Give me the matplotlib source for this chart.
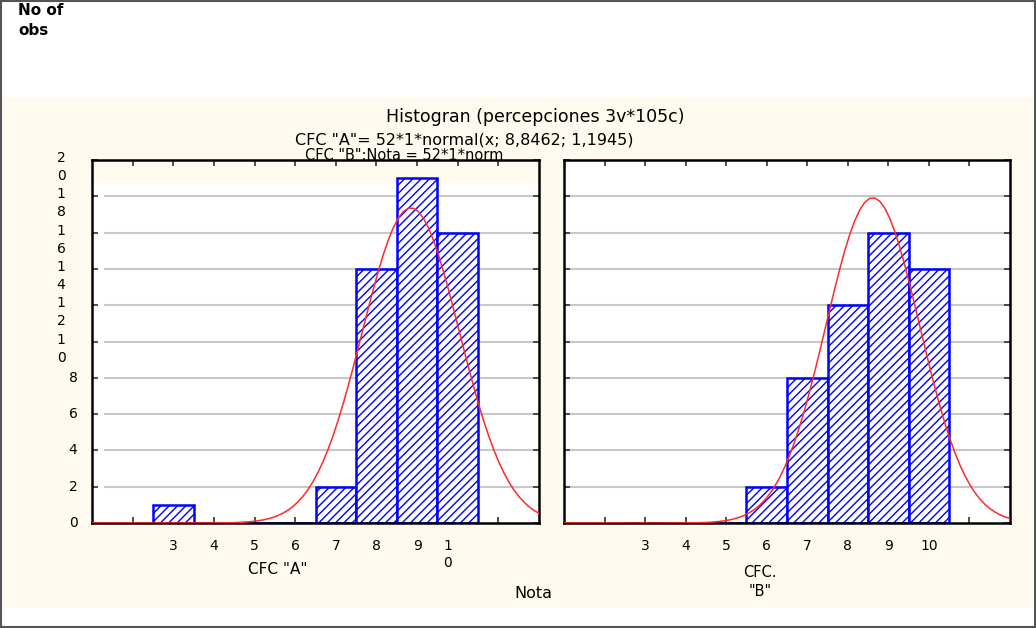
import numpy as np
import matplotlib.pyplot as plt
from matplotlib.patches import Rectangle

notas = [3, 4, 5, 6, 7, 8, 9, 10]
cfc_a = [1, 0, 0, 0, 2, 14, 19, 16]
cfc_b = [0, 0, 0, 2, 8, 12, 16, 14]
etiquetas_a = ["3", "4", "5", "6", "7", "8", "9", "1\n0"]
etiquetas_b = ["3", "4", "5", "6", "7", "8", "9", "10"]
y_ticks = [0, 2, 4, 6, 8, 10, 12, 14, 16, 18, 20]

plt.rcParams['font.family'] = ['DejaVu Sans']
plt.rcParams['hatch.linewidth'] = 1.0

W, H = 1036, 628
CREAM = '#fffaf0'


def fx(x):
    return x / W


def fy(y):
    return 1 - y / H


def curva_normal(counts, xs):
    # curva normal ajustada (n * ancho de clase * pdf)
    vals = np.repeat(notas, counts)
    m = vals.mean()
    s = vals.std(ddof=1)
    n = len(vals)
    return n * 1 * np.exp(-0.5 * ((xs - m) / s) ** 2) / (s * np.sqrt(2 * np.pi))


fig = plt.figure(figsize=(10.36, 6.28), dpi=100)
fig.patch.set_facecolor('white')
fig.patches.append(Rectangle((fx(3), fy(608)), fx(1033) - fx(3), fy(97) - fy(608),
                             transform=fig.transFigure, facecolor=CREAM,
                             edgecolor='none', zorder=-10))
fig.patches.append(Rectangle((fx(1), fy(627)), fx(1035) - fx(1), fy(1) - fy(627),
                             transform=fig.transFigure, facecolor='none',
                             edgecolor='#555555', lw=1.5, zorder=-5))

ax_a = fig.add_axes([fx(92), fy(523), (539 - 92) / W, (523 - 160) / H])
ax_b = fig.add_axes([fx(564), fy(523), (1010 - 564) / W, (523 - 160) / H])

xs = np.linspace(1, 12, 90)
for ax, counts, x0 in [(ax_a, cfc_a, 1.3), (ax_b, cfc_b, 1.0)]:
    ax.set_facecolor('white')
    ax.set_xlim(1, 12)
    ax.set_ylim(0, 20)
    ax.hlines(y_ticks[1:-1], x0, 12, color='#c8c8c8', lw=1.5, zorder=1)
    ax.bar(notas, counts, width=1, facecolor='white', edgecolor='#0000ff',
           hatch='////', lw=1.8, zorder=2)
    ax.plot(xs, curva_normal(counts, xs), color='#ff2a2a', lw=1.1, zorder=3)
    ax.set_xticks(range(2, 12))
    ax.set_yticks(y_ticks)
    ax.tick_params(direction='in', length=4, width=1.2, top=True, right=True,
                   labelbottom=False, labelleft=False, colors='#333333')
    for s in ax.spines.values():
        s.set_linewidth(1.8)
        s.set_color('black')

# franja crema arriba del panel A
ax_a.axhspan(18.75, 20, color=CREAM, zorder=0.5)

# etiquetas del eje x
ta = ax_a.get_xaxis_transform()
for x, lab in zip(notas, etiquetas_a):
    xx = x - 0.25 if '\n' in lab else x
    ax_a.text(xx, -0.045, lab, transform=ta, ha='center', va='top',
              fontsize=10, linespacing=1.25)
tb = ax_b.get_xaxis_transform()
for x, lab in zip(notas, etiquetas_b):
    ax_b.text(x, -0.045, lab, transform=tb, ha='center', va='top', fontsize=10)

# etiquetas del eje y (solo panel A)
for v in y_ticks:
    yy = fy(523 - v * 363 / 20)
    lab = str(v)
    if len(lab) == 2:
        fig.text(fx(61), yy + 0.003, lab[0], ha='center', va='center', fontsize=10)
        fig.text(fx(61), yy - 16 / H, lab[1], ha='center', va='center', fontsize=10)
    else:
        fig.text(fx(73), yy, lab, ha='center', va='center', fontsize=10)

fig.text(fx(18), fy(3), 'No of\nobs', ha='left', va='top', fontsize=11,
         fontweight='bold', linespacing=1.45)
fig.text(fx(535), fy(117), 'Histogran (percepciones 3v*105c)', ha='center',
         va='center', fontsize=12.5)
fig.text(fx(464), fy(140), 'CFC "A"= 52*1*normal(x; 8,8462; 1,1945)', ha='center',
         va='center', fontsize=11.5)
fig.text(fx(305), fy(155), 'CFC "B":Nota = 52*1*norm', ha='left', va='center',
         fontsize=10.5)
fig.text(fx(278), fy(570), 'CFC "A"', ha='center', va='center', fontsize=11)
fig.text(fx(533), fy(593), 'Nota', ha='center', va='center', fontsize=11.5)
fig.text(fx(760), fy(582), 'CFC.\n"B"', ha='center', va='center', fontsize=10.5,
         linespacing=1.35)

fig.savefig('out.png', dpi=100, facecolor='white')
